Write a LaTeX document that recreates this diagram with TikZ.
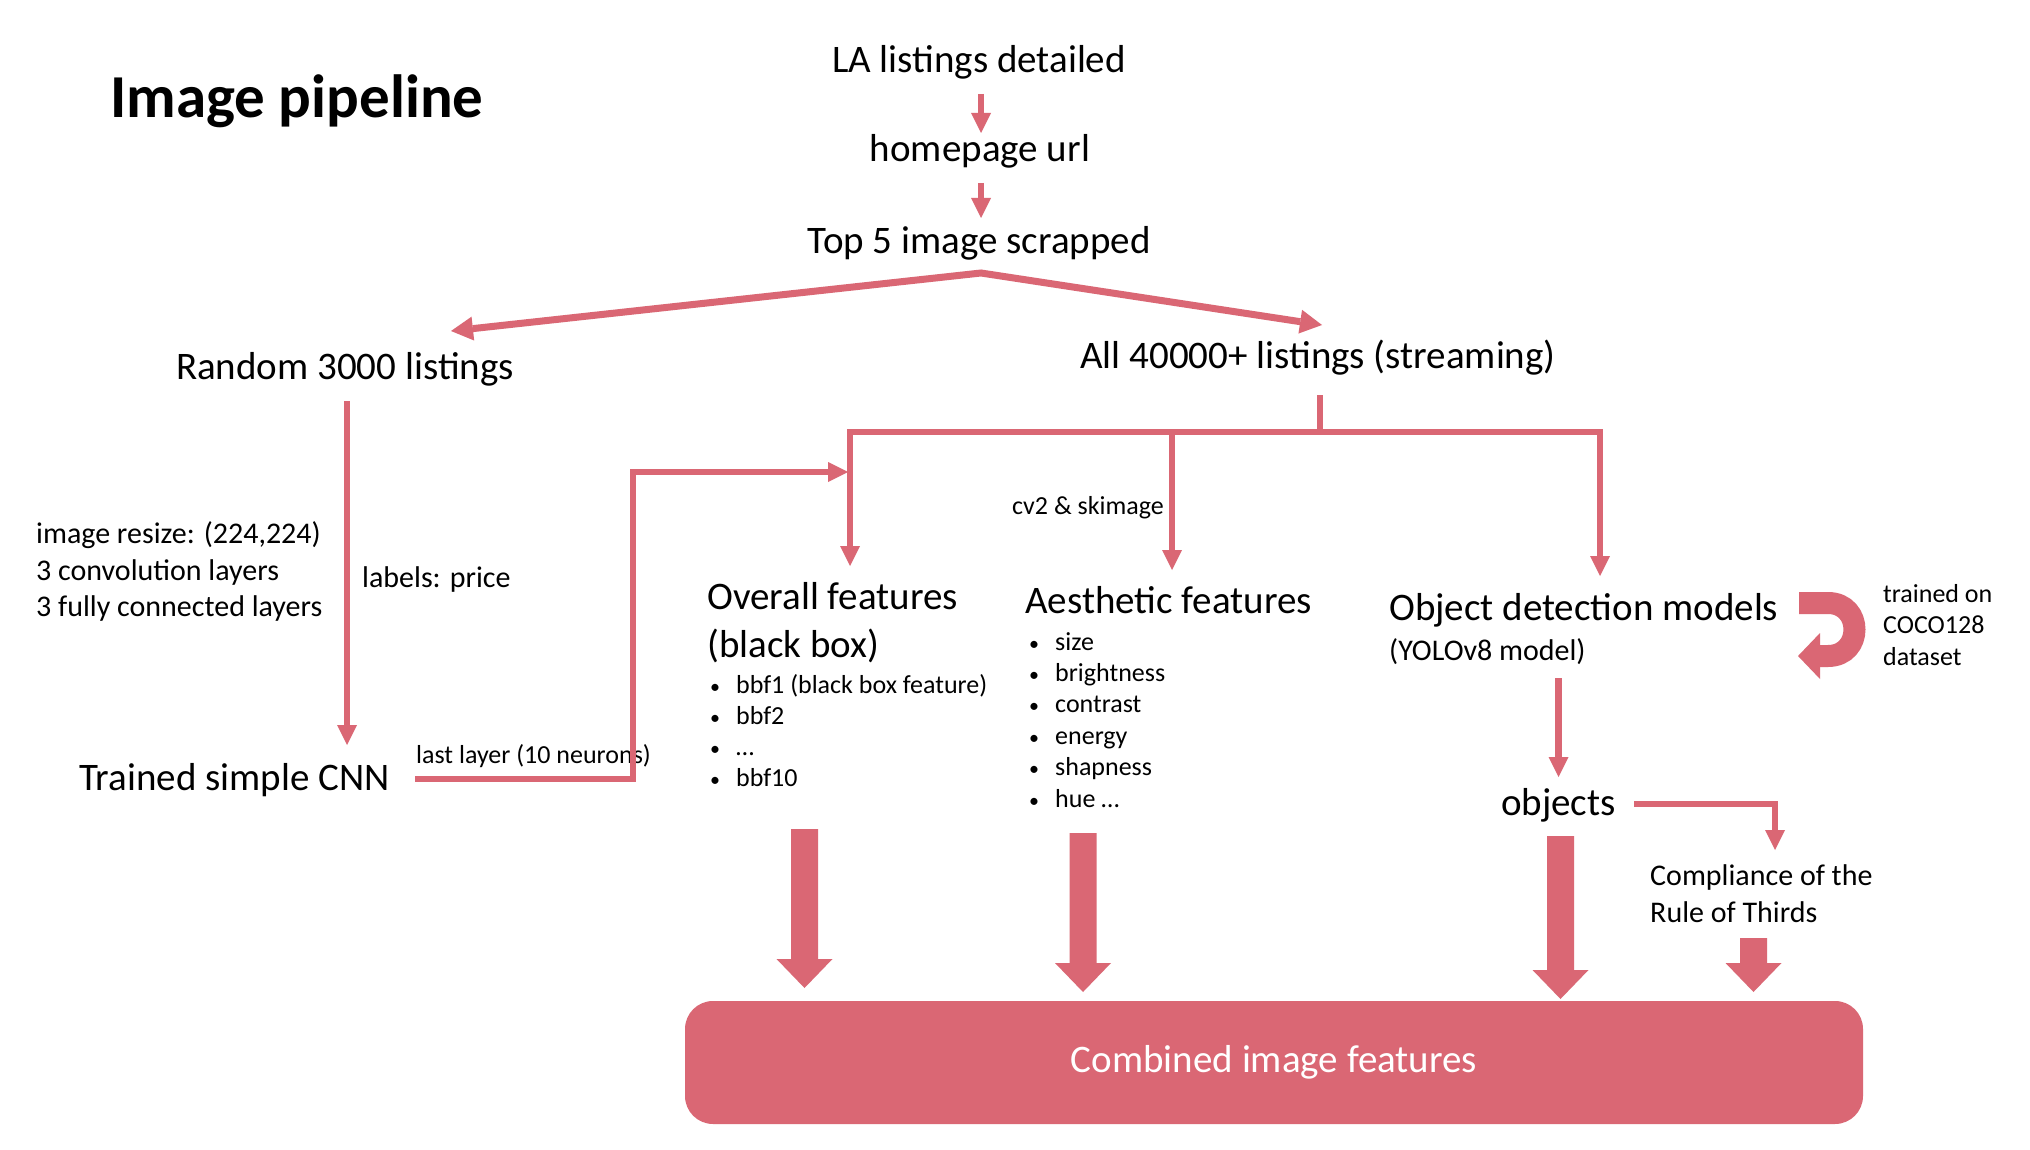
\documentclass[tikz,border=0pt]{standalone}
\usepackage{fontspec}
\setmainfont{Carlito}
\usetikzlibrary{arrows.meta}
\definecolor{pk}{RGB}{218,103,116}
\newcommand\myblockarr[3]{\fill[pk] (#1-13.5,#2) -- (#1+13.5,#2) -- (#1+13.5,#3-29) -- (#1+28,#3-29) -- (#1,#3) -- (#1-28,#3-29) -- (#1-13.5,#3-29) -- cycle;}
\newcommand\mybul{\makebox[26pt][l]{\fontsize{20}{20}\selectfont •}}
\begin{document}
\begin{tikzpicture}[x=1pt,y=-1pt,
  lbl/.style={inner sep=0pt, font=\fontsize{39}{46}\selectfont},
  mid/.style={inner sep=0pt, font=\fontsize{30}{36}\selectfont},
  sml/.style={inner sep=0pt, font=\fontsize{26}{31}\selectfont},
  conn/.style={draw=pk, line width=6.5pt},
  arr/.style={conn, -{Triangle[width=20pt,length=20pt,line width=0pt]}},
]
\fill[white] (0,0) rectangle (2030,1150);
\useasboundingbox (0,0) rectangle (2030,1150);

% title
\node[inner sep=0pt, anchor=base west, font=\fontsize{61}{70}\selectfont\bfseries] (title) at (110,118) {Image pipeline};

% top chain
\node[lbl, anchor=base] (la) at (979,73) {LA listings detailed};
\node[lbl, anchor=base] (hp) at (980,162) {homepage url};
\node[lbl, anchor=base] (top) at (979,254) {Top 5 image scrapped};
\node[lbl, anchor=base] (rnd) at (345,379) {Random 3000 listings};
\node[lbl, anchor=base] (all) at (1318,369) {All 40000+ listings (streaming)};

% left branch
\node[mid, anchor=base west] (cfg1) at (36,543) {image resize: (224,224)};
\node[mid, anchor=base west] (cfg2) at (36,580) {3 convolution layers};
\node[mid, anchor=base west] (cfg3) at (36,616) {3 fully connected layers};
\node[mid, anchor=base west] (lab) at (362,587) {labels: price};
\node[lbl, anchor=base west] (cnn) at (79,790) {Trained simple CNN};
\node[sml, anchor=base west] (last) at (416,763) {last layer (10 neurons)};

% overall features
\node[lbl, anchor=base west] (ov1) at (707,609) {Overall features};
\node[lbl, anchor=base west] (ov2) at (707,657) {(black box)};
\foreach \t [count=\i] in {{bbf1 (black box feature)},{bbf2},{…},{bbf10}}
  \node[sml, anchor=base west] (ovb\i) at (710,{661.7+31.3*\i}) {\mybul\t};

% aesthetic features
\node[sml, anchor=base west] (cv) at (1012,514) {cv2 \& skimage};
\node[lbl, anchor=base west] (ae) at (1025,613) {Aesthetic features};
\foreach \t [count=\i] in {size,brightness,contrast,energy,shapness,{hue …}}
  \node[sml, anchor=base west] (aeb\i) at (1029,{618.6+31.4*\i}) {\mybul\t};

% object detection
\node[lbl, anchor=base west] (od) at (1389,620) {Object detection models};
\node[mid, anchor=base west] (yolo) at (1389,660) {(YOLOv8 model)};
\node[sml, anchor=base west] (tr1) at (1883,602) {trained on};
\node[sml, anchor=base west] (tr2) at (1883,633) {COCO128};
\node[sml, anchor=base west] (tr3) at (1883,665) {dataset};
\node[lbl, anchor=base west] (obj) at (1501,815) {objects};
\node[mid, anchor=base west] (cp1) at (1650,885) {Compliance of the};
\node[mid, anchor=base west] (cp2) at (1650,922) {Rule of Thirds};

% combined box
\node[fill=pk, rounded corners=28pt, minimum width=1178pt, minimum height=123pt, inner sep=0pt,
      text=white, font=\fontsize{39}{46}\selectfont] (comb) at (1274,1062.5) {Combined image features};

% connectors
\draw[arr] ([shift={(2,21)}]la.base) -- ([shift={(1,-29)}]hp.base);
\draw[arr] ([shift={(1,21)}]hp.base) -- ([shift={(2,-36)}]top.base);
\coordinate (apex) at ([shift={(2,19)}]top.base);
\draw[conn, line width=7pt, line join=miter,
      {Triangle[width=24pt,length=22pt,line width=0pt]}-{Triangle[width=24pt,length=22pt,line width=0pt]}]
      ([shift={(106,-48)}]rnd.base) -- (apex) -- ([shift={(4,-44)}]all.base);
\draw[arr] ([shift={(2,22)}]rnd.base) -- ([shift={(268,-45)}]cnn.base west);
\draw[arr] ([shift={(336,-11)}]cnn.base west) -- ++(218,0) |- ([shift={(141,-137)}]ov1.base west);

\coordinate (bus) at ([shift={(2,63)}]all.base);
\draw[conn] ([shift={(2,26)}]all.base) -- (bus);
\draw[arr] (bus) -| ([shift={(143,-43)}]ov1.base west);
\draw[arr] (bus) -| ([shift={(211,-44)}]od.base west);
\coordinate (aein) at ([shift={(147,-43)}]ae.base west);
\draw[arr] (aein |- bus) -- (aein);

\coordinate (odout) at (obj.base |- od.base);
\draw[arr] ([yshift=-58pt]odout) -- ([yshift=38pt]obj.base);
\draw[arr] ([shift={(133,-11)}]obj.base west) -| ([shift={(125,-35)}]cp1.base west);

% U-turn arrow
\draw[pk, line width=22pt, -{Triangle[width=46pt,length=22pt,line width=0pt]}]
  (1799,603) -- (1828,603) .. controls (1863.3,603) and (1863.3,656) .. (1828,656) -- (1798,656);

% block arrows into combined features
\myblockarr{804.5}{829}{988}
\myblockarr{1083}{833}{992}
\myblockarr{1560.5}{836}{999}
\myblockarr{1753.5}{938}{992}
\end{tikzpicture}
\end{document}
